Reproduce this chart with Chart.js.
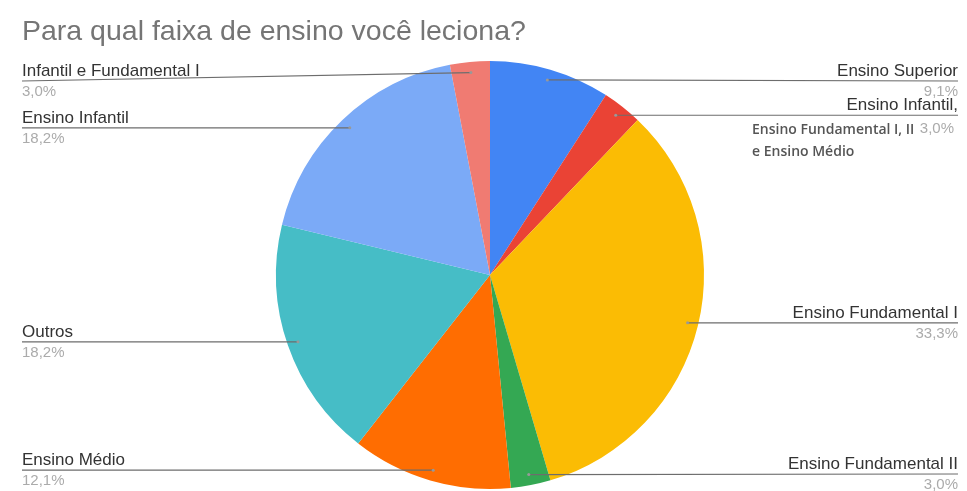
<!DOCTYPE html>
<html>
<head>
<meta charset="utf-8">
<title>Para qual faixa de ensino você leciona?</title>
<script src="https://cdn.jsdelivr.net/npm/chart.js@4.4.0/dist/chart.umd.min.js"></script>
<style>
  html, body { margin: 0; padding: 0; background: #fff; }
  #wrap { position: relative; width: 967px; height: 491px; }
</style>
</head>
<body>
<div id="wrap"><canvas id="mycanvas"></canvas></div>
<script>
var title = 'Para qual faixa de ensino você leciona?';

// slices, clockwise from the top
var categories = [
    'Ensino Superior',
    ['Ensino Infantil,', 'Ensino Fundamental I, II', 'e Ensino Médio'],
    'Ensino Fundamental I',
    'Ensino Fundamental II',
    'Ensino Médio',
    'Outros',
    'Ensino Infantil',
    'Infantil e Fundamental I'
];
var percents = [9.1, 3.0, 33.3, 3.0, 12.1, 18.2, 18.2, 3.0];
var colors = ['#4285F4', '#EA4335', '#FBBC04', '#34A853', '#FF6D01', '#46BDC6', '#7BAAF7', '#F07B72'];

function pct(v){
    return v.toFixed(1).replace('.', ',') + '%';
}

// leader lines + labels on both sides of the pie
var sideLabels = {
    id: 'sideLabels',
    afterDraw: function(chart){
        var ctx = chart.ctx;
        var meta = chart.getDatasetMeta(0);
        var W = chart.width;

        ctx.save();
        ctx.fillStyle = '#757575';
        ctx.font = '28.5px "Liberation Sans", Arial, sans-serif';
        ctx.textAlign = 'left';
        ctx.textBaseline = 'alphabetic';
        ctx.fillText(title, 22, 40);

        meta.data.forEach(function(arc, i){
            var p = arc.getProps(['x', 'y', 'startAngle', 'endAngle', 'outerRadius'], true);
            var mid = (p.startAngle + p.endAngle) / 2;
            var ax = p.x + Math.cos(mid) * p.outerRadius * 0.95;
            var ay = p.y + Math.sin(mid) * p.outerRadius * 0.95;
            var right = ax > p.x;
            var ly = Math.min(Math.max(ay, 81), 474);
            var edge = right ? W - 9 : 22;

            ctx.strokeStyle = '#6d6d6d';
            ctx.lineWidth = 1.2;
            ctx.beginPath();
            ctx.moveTo(edge, ly);
            ctx.lineTo(ax, ay);
            ctx.stroke();

            ctx.fillStyle = '#999999';
            ctx.beginPath();
            ctx.arc(ax, ay, 1.5, 0, Math.PI * 2);
            ctx.fill();

            var name = categories[i];
            var lines = Array.isArray(name) ? name : [name];
            ctx.textAlign = right ? 'right' : 'left';
            ctx.fillStyle = '#333333';
            ctx.font = '17px "Liberation Sans", Arial, sans-serif';
            ctx.fillText(lines[0], edge, ly - 5);

            ctx.fillStyle = '#ababab';
            ctx.font = '15px "Liberation Sans", Arial, sans-serif';
            ctx.fillText(pct(percents[i]), lines.length > 1 ? edge - 4 : edge, ly + (lines.length > 1 ? 18 : 15));

            if (lines.length > 1) {
                ctx.textAlign = 'left';
                ctx.fillStyle = '#555555';
                ctx.font = '600 14px "Open Sans", sans-serif';
                for (var k = 1; k < lines.length; k++) {
                    ctx.fillText(lines[k], 752, ly + 19 + (k - 1) * 22);
                }
            }
        });
        ctx.restore();
    }
};

var ctx = document.getElementById('mycanvas');
var PieGraph = new Chart(ctx, {
    type: 'pie',
    data: {
        labels: categories,
        datasets: [{
            data: percents,
            backgroundColor: colors,
            borderWidth: 0
        }]
    },
    options: {
        responsive: true,
        maintainAspectRatio: false,
        animation: false,
        layout: { padding: { top: 61, bottom: 2, left: 13, right: 0 } },
        plugins: {
            legend: { display: false },
            tooltip: { enabled: false }
        }
    },
    plugins: [sideLabels]
});
</script>
</body>
</html>
